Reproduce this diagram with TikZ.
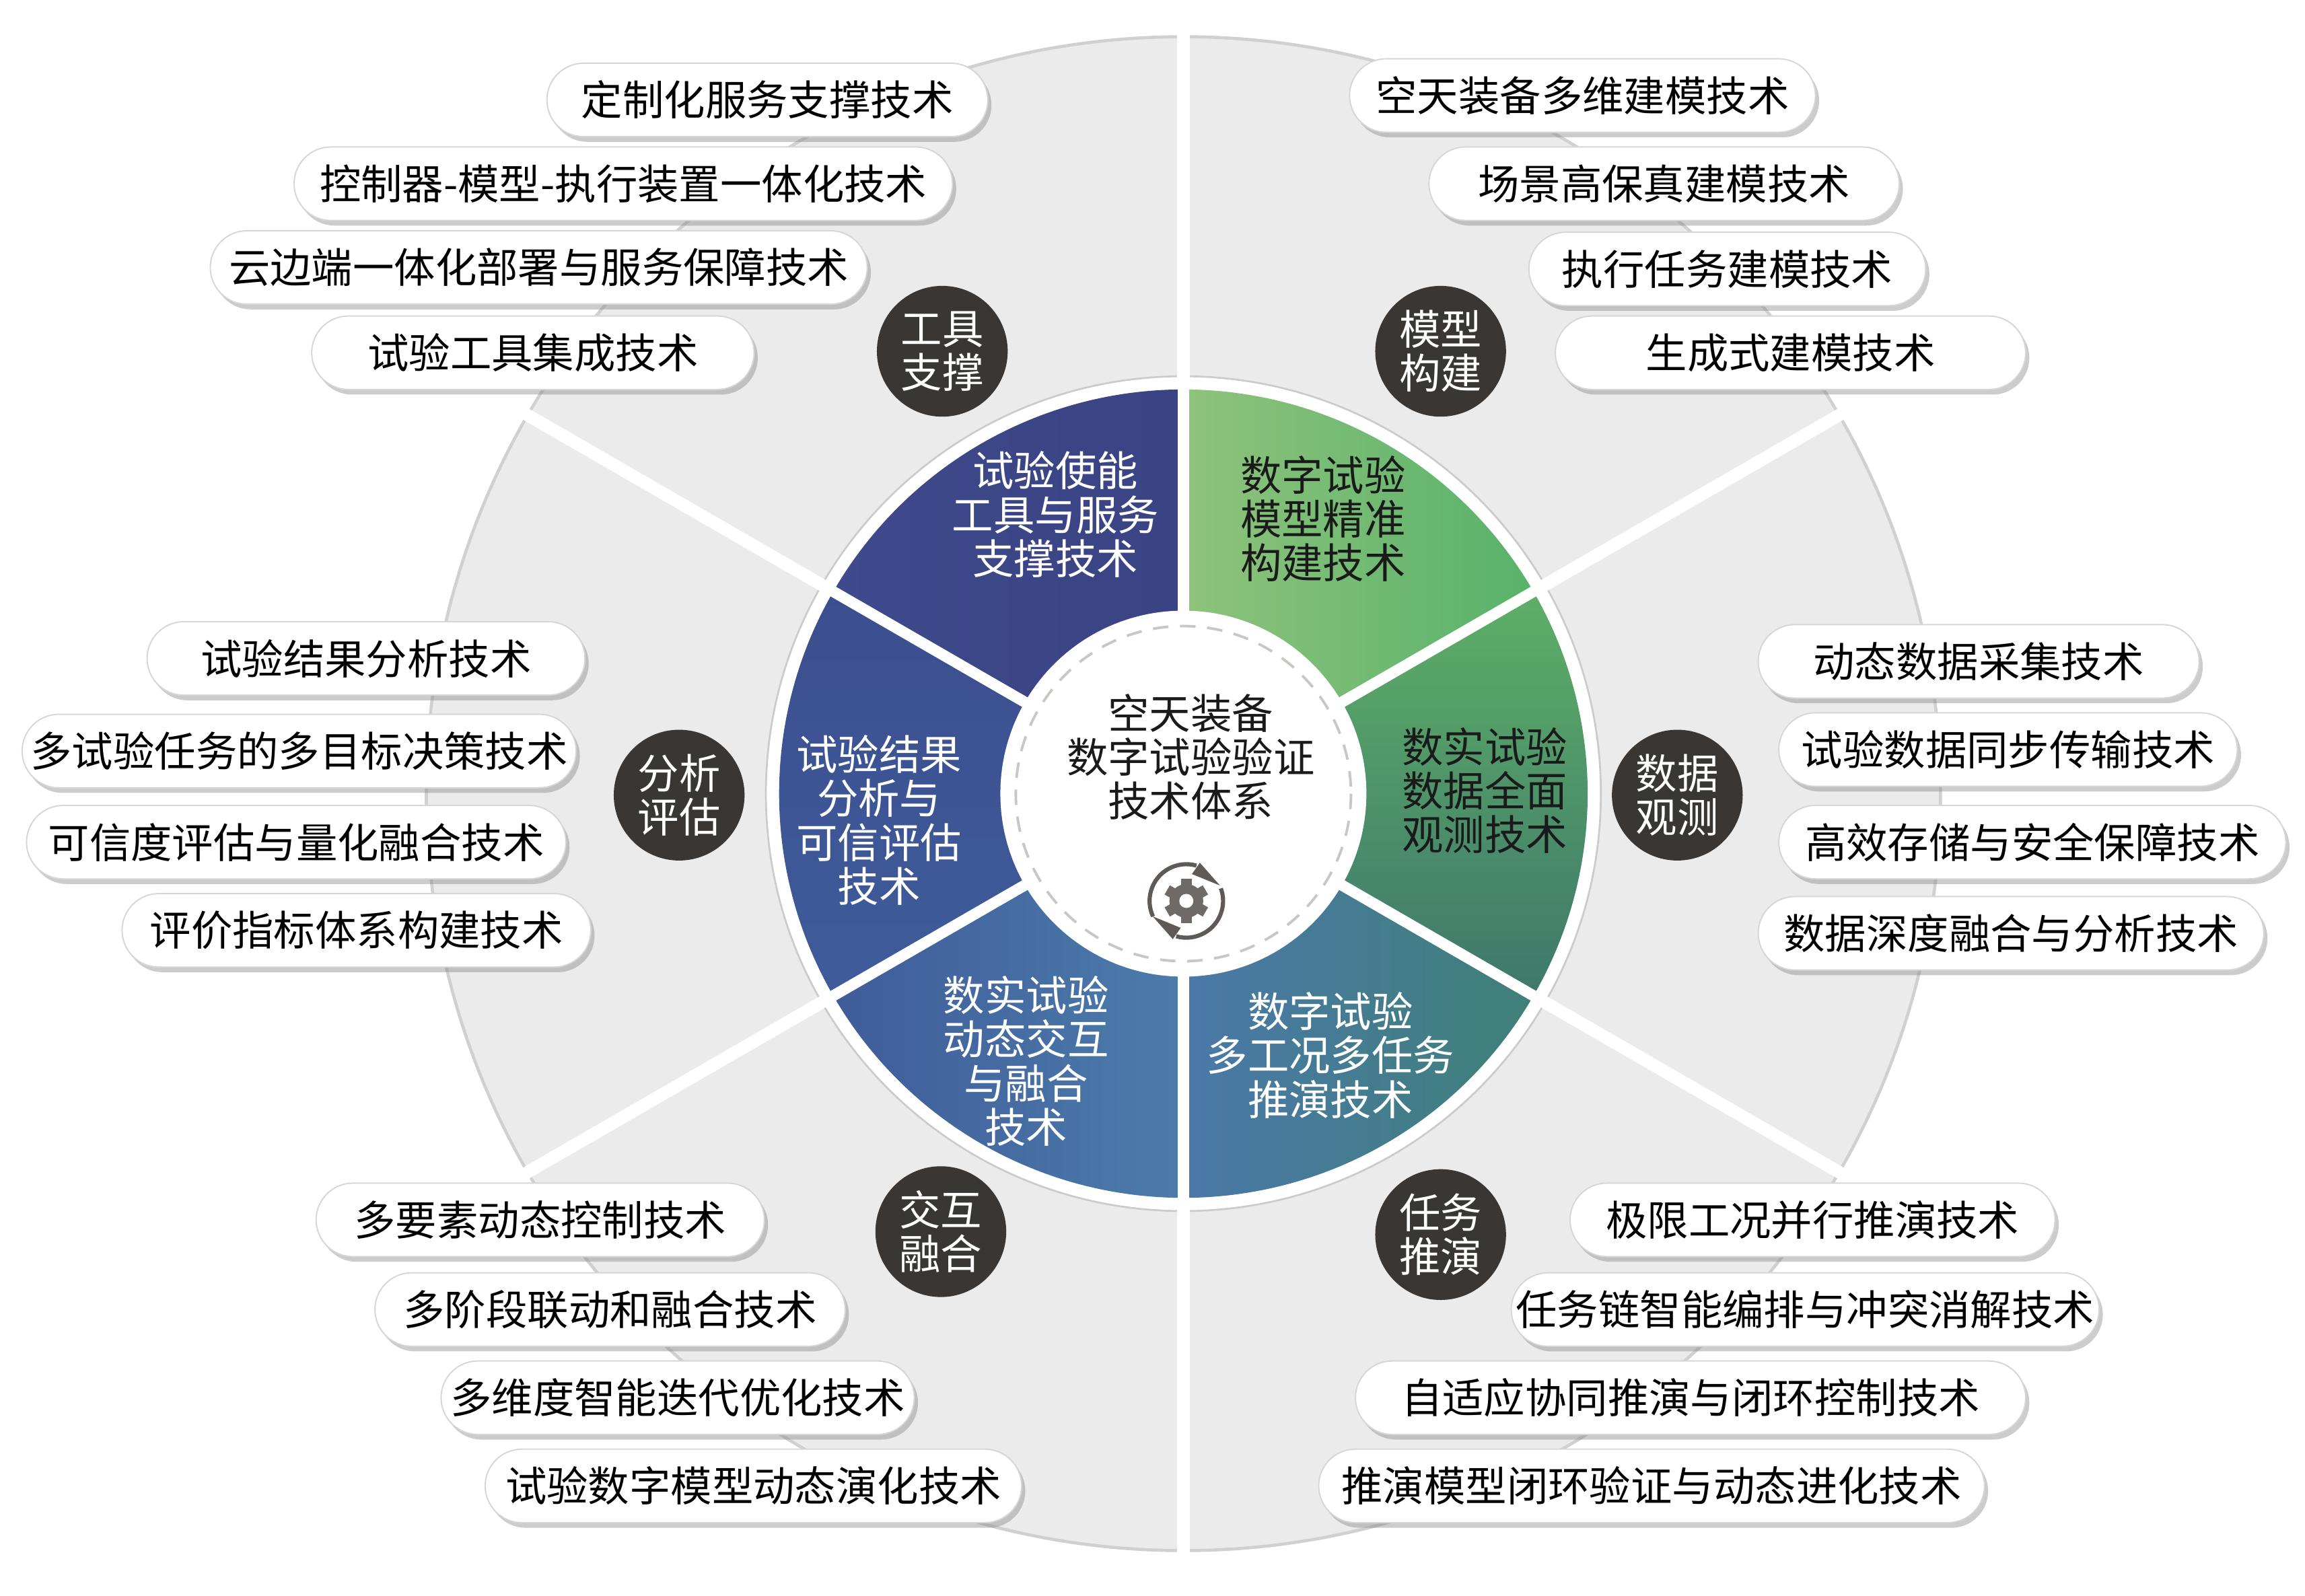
\documentclass[tikz,border=0pt]{standalone}
\usepackage{fontspec}
\newfontfamily\cjk{Noto Sans CJK SC}
\usetikzlibrary{shadows}
\definecolor{bgrey}{HTML}{ECEBEB}
\definecolor{rimc}{HTML}{D0D0D0}
\definecolor{ringline}{HTML}{CCCACA}
\definecolor{badgec}{HTML}{3A3634}
\definecolor{gearc}{HTML}{6F6A68}
\definecolor{ringc}{HTML}{5F5A58}
\definecolor{dashc}{HTML}{C9C6C4}
\definecolor{darktxt}{HTML}{1A1A1A}
\definecolor{trA}{HTML}{8FC37C}
\definecolor{trB}{HTML}{58B26A}
\definecolor{rA}{HTML}{5EAE67}
\definecolor{rB}{HTML}{3E786B}
\definecolor{brA}{HTML}{4A78A9}
\definecolor{brB}{HTML}{3F8078}
\definecolor{blA}{HTML}{3F5C99}
\definecolor{blB}{HTML}{4C7CAB}
\definecolor{lA}{HTML}{3C4E8F}
\definecolor{lB}{HTML}{3F5C9A}
\definecolor{tlA}{HTML}{3E4A8C}
\definecolor{tlB}{HTML}{3A4383}
\begin{document}
\begin{tikzpicture}[x=0.02cm, y=-0.02cm,
  every node/.style={font=\cjk\fontsize{16}{17}\selectfont},
  pill/.style={draw=black!16, line width=0.5pt, fill=white, rounded corners=0.5cm,
    minimum height=1cm, inner sep=0pt,
    drop shadow={shadow xshift=0.5mm, shadow yshift=-0.7mm, fill=black!50, opacity=0.4}},
  badge/.style={circle, fill=badgec, text=white, minimum size=1.78cm, inner sep=0pt, align=center},
  sectxt/.style={align=center, inner sep=0pt},
  gapline/.style={white, line width=0.17cm},
]
\useasboundingbox (0,0) rectangle (1568,1085.9);
\coordinate (O) at (805,540);

% ---------- wheel ----------
\begin{scope}[shift={(O)}]
  \fill[bgrey] (0,0) circle[radius=515];
  \draw[rimc, line width=1.2pt] (0,0) circle[radius=515];
  \fill[white] (0,0) circle[radius=284];
  \draw[ringline, line width=0.7pt] (0,0) circle[radius=284];
  \foreach \a in {-90,-30,30,90,150,210} \draw[gapline] (0,0) -- (\a:535);
  % top-right
  \shade[left color=trA, right color=trB] (-90:124) arc[start angle=-90, end angle=-30, radius=124] -- (-30:275) arc[start angle=-30, end angle=-90, radius=275] -- cycle;
  % right
  \shade[top color=rA, bottom color=rB] (-30:124) arc[start angle=-30, end angle=30, radius=124] -- (30:275) arc[start angle=30, end angle=-30, radius=275] -- cycle;
  % bottom-right
  \shade[left color=brA, right color=brB] (30:124) arc[start angle=30, end angle=90, radius=124] -- (90:275) arc[start angle=90, end angle=30, radius=275] -- cycle;
  % bottom-left
  \shade[left color=blA, right color=blB] (90:124) arc[start angle=90, end angle=150, radius=124] -- (150:275) arc[start angle=150, end angle=90, radius=275] -- cycle;
  % left
  \shade[top color=lA, bottom color=lB] (150:124) arc[start angle=150, end angle=210, radius=124] -- (210:275) arc[start angle=210, end angle=150, radius=275] -- cycle;
  % top-left
  \shade[left color=tlA, right color=tlB] (210:124) arc[start angle=210, end angle=270, radius=124] -- (270:275) arc[start angle=270, end angle=210, radius=275] -- cycle;
  \foreach \a in {-90,-30,30,90,150,210} \draw[white, line width=0.15cm] (\a:110) -- (\a:283);
  \fill[white] (0,0) circle[radius=124.5];
  \draw[dashc, line width=1pt, dash pattern=on 6pt off 4.5pt] (0,0) circle[radius=114];
\end{scope}

% ---------- gear icon ----------
\begin{scope}[shift={(807,613)}]
  \fill[gearc] (0,0) circle[radius=11.5];
  \foreach \k in {0,60,...,300} \fill[gearc, rotate=\k] (-3.6,-8) rectangle (3.6,-15);
  \fill[white] (0,0) circle[radius=4.8];
  \draw[ringc, line width=1.6pt] (-74:25) arc[start angle=-74, end angle=-205, radius=25];
  \draw[ringc, line width=1.6pt] (-254:25) arc[start angle=-254, end angle=-380, radius=25];
  \fill[ringc] (3.8,-18.3) -- (9.2,-26) -- (22.9,-10.5) -- cycle;
  \fill[ringc] (-3.8,18.3) -- (-9.2,26) -- (-22.9,10.5) -- cycle;
\end{scope}

% ---------- centre and sector texts ----------
\node[sectxt, text=darktxt] (centre) at (810,515) {空天装备\\数字试验验证\\技术体系};
\node[sectxt, text=white] (secTL) at (718,350) {试验使能\\工具与服务\\支撑技术};
\node[sectxt, text=darktxt] (secTR) at (900,353) {数字试验\\模型精准\\构建技术};
\node[sectxt, text=darktxt] (secR) at (1010,538) {数实试验\\数据全面\\观测技术};
\node[sectxt, text=white] (secBR) at (905,718) {数字试验\\多工况多任务\\推演技术};
\node[sectxt, text=white] (secBL) at (698,722) {数实试验\\动态交互\\与融合\\技术};
\node[sectxt, text=white] (secL) at (598,558) {试验结果\\分析与\\可信评估\\技术};

% ---------- badges ----------
\node[badge] (bTool) at (641,239) {工具\\支撑};
\node[badge] (bModel) at (980,239) {模型\\构建};
\node[badge] (bAna) at (462,541) {分析\\评估};
\node[badge] (bData) at (1141,541) {数据\\观测};
\node[badge] (bInt) at (640,838) {交互\\融合};
\node[badge] (bTask) at (980,840) {任务\\推演};

% ---------- pills: tools ----------
\node[pill, minimum width=6.00cm] (p1) at (522,68) {定制化服务支撑技术};
\node[pill, minimum width=8.96cm] (p2) at (424,125) {控制器-模型-执行装置一体化技术};
\node[pill, minimum width=8.94cm] (p3) at (366.5,182) {云边端一体化部署与服务保障技术};
\node[pill, minimum width=6.02cm] (p4) at (362.5,240) {试验工具集成技术};
% ---------- pills: model ----------
\node[pill, minimum width=6.34cm] (q1) at (1076.5,65) {空天装备多维建模技术};
\node[pill, minimum width=6.40cm] (q2) at (1132,125) {场景高保真建模技术};
\node[pill, minimum width=5.40cm] (q3) at (1175,183) {执行任务建模技术};
\node[pill, minimum width=6.40cm] (q4) at (1218,240) {生成式建模技术};
% ---------- pills: analysis ----------
\node[pill, minimum width=5.96cm] (r1) at (249,448) {试验结果分析技术};
\node[pill, minimum width=7.54cm] (r2) at (203.5,511) {多试验任务的多目标决策技术};
\node[pill, minimum width=7.34cm] (r3) at (201.5,573) {可信度评估与量化融合技术};
\node[pill, minimum width=6.38cm] (r4) at (242.5,633) {评价指标体系构建技术};
% ---------- pills: data ----------
\node[pill, minimum width=6.00cm] (s1) at (1346,450) {动态数据采集技术};
\node[pill, minimum width=6.24cm] (s2) at (1366,510) {试验数据同步传输技术};
\node[pill, minimum width=6.90cm] (s3) at (1382.5,573) {高效存储与安全保障技术};
\node[pill, minimum width=6.88cm] (s4) at (1368,635) {数据深度融合与分析技术};
% ---------- pills: interaction ----------
\node[pill, minimum width=6.10cm] (t1) at (367.5,830) {多要素动态控制技术};
\node[pill, minimum width=6.40cm] (t2) at (415,891) {多阶段联动和融合技术};
\node[pill, minimum width=6.44cm] (t3) at (461,951) {多维度智能迭代优化技术};
\node[pill, minimum width=7.30cm] (t4) at (512.5,1011) {试验数字模型动态演化技术};
% ---------- pills: tasks ----------
\node[pill, minimum width=6.60cm] (u1) at (1233,830) {极限工况并行推演技术};
\node[pill, minimum width=8.00cm] (u2) at (1228,891) {任务链智能编排与冲突消解技术};
\node[pill, minimum width=9.12cm] (u3) at (1150,951) {自适应协同推演与闭环控制技术};
\node[pill, minimum width=9.06cm] (u4) at (1123.5,1011) {推演模型闭环验证与动态进化技术};
\end{tikzpicture}
\end{document}
